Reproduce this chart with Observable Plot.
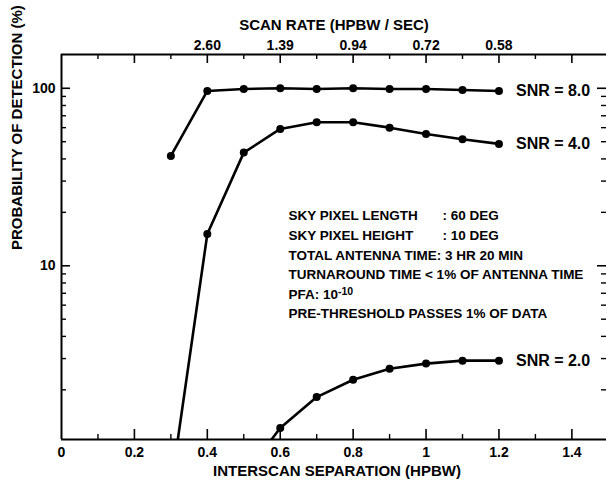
<!DOCTYPE html>
<html>
<head>
<meta charset="utf-8">
<script src="https://cdn.jsdelivr.net/npm/d3@7"></script>
<script src="https://cdn.jsdelivr.net/npm/@observablehq/plot@0.6"></script>
<style>
  html, body { margin: 0; padding: 0; background: #fff; }
</style>
</head>
<body>
<div id="chart"></div>
<script>
// Probability of detection (%) against interscan separation (HPBW), one curve per SNR
const sepSnr8 = [0.3, 0.4, 0.5, 0.6, 0.7, 0.8, 0.9, 1.0, 1.1, 1.2];
const pdSnr8  = [41.6, 96.6, 99.1, 100, 99.1, 100, 99.1, 99.1, 97.8, 96.6];

const sepSnr4 = [0.3, 0.4, 0.5, 0.6, 0.7, 0.8, 0.9, 1.0, 1.1, 1.2];
const pdSnr4  = [0.56, 15.1, 43.4, 59.0, 64.4, 64.4, 60.0, 55.3, 51.6, 48.6];

const sepSnr2 = [0.5, 0.6, 0.7, 0.8, 0.9, 1.0, 1.1, 1.2];
const pdSnr2  = [0.65, 1.22, 1.82, 2.28, 2.63, 2.81, 2.92, 2.92];

const snrNames = ["SNR = 8.0", "SNR = 4.0", "SNR = 2.0"];

// Bottom axis: interscan separation
const sepMajor = [0, 0.2, 0.4, 0.6, 0.8, 1.0, 1.2, 1.4];
const sepMinor = [0.1, 0.3, 0.5, 0.7, 0.9, 1.1, 1.3];

// Top axis: scan rate (HPBW/sec) at matching separations
const scanRateLabels = ["2.60", "1.39", "0.94", "0.72", "0.58"];
const scanRateAt     = [0.4, 0.6, 0.8, 1.0, 1.2];

// Left axis: log decades and minor ticks
const pdMajor = [10, 100];
const pdMinor = [2, 3, 4, 5, 6, 7, 8, 9, 20, 30, 40, 50, 60, 70, 80, 90];

// Run parameters listed inside the plot area
const noteKeys   = ["SKY PIXEL LENGTH", "SKY PIXEL HEIGHT"];
const noteValues = [": 60 DEG", ": 10 DEG"];
const noteLines  = [
  "TOTAL ANTENNA TIME: 3 HR 20 MIN",
  "TURNAROUND TIME < 1% OF ANTENNA TIME",
  "PFA: 10",
  "PRE-THRESHOLD PASSES 1% OF DATA"
];
const pfaExponent = "-10";

const xDomain = [0, 1.495];
const yDomain = [1.05, 155];
const frameH = 482 - 54 - 43;
const frameW = 606 - 61;

const series = [
  ...sepSnr8.map((s, i) => ({snr: snrNames[0], sep: s, pd: pdSnr8[i]})),
  ...sepSnr4.map((s, i) => ({snr: snrNames[1], sep: s, pd: pdSnr4[i]})),
  ...sepSnr2.map((s, i) => ({snr: snrNames[2], sep: s, pd: pdSnr2[i]}))
];
const lastPoints = snrNames.map(n => series.filter(d => d.snr === n).at(-1));

const font = "'Liberation Sans', Arial, 'DejaVu Sans', sans-serif";

const chart = Plot.plot({
  width: 606,
  height: 482,
  marginLeft: 61,
  marginRight: 0,
  marginTop: 54,
  marginBottom: 43,
  x: {domain: xDomain},
  y: {type: "log", domain: yDomain},
  style: {fontFamily: font, fontWeight: "bold", fontSize: "14px", color: "#000", background: "#fff"},
  marks: [
    // frame: left, top and bottom edges
    Plot.ruleX([xDomain[0]], {stroke: "#000", strokeWidth: 2}),
    Plot.ruleY([yDomain[0]], {stroke: "#000", strokeWidth: 2}),
    Plot.ruleY([yDomain[1]], {stroke: "#000", strokeWidth: 2}),

    // inward ticks, bottom
    Plot.ruleX(sepMajor.slice(1), {stroke: "#000", strokeWidth: 1.6, insetTop: frameH - 10}),
    Plot.ruleX(sepMinor, {stroke: "#000", strokeWidth: 1.4, insetTop: frameH - 5}),
    // inward ticks, top
    Plot.ruleX(sepMajor.slice(1), {stroke: "#000", strokeWidth: 1.6, insetBottom: frameH - 9}),
    Plot.ruleX(sepMinor, {stroke: "#000", strokeWidth: 1.4, insetBottom: frameH - 5}),
    // inward ticks, left
    Plot.ruleY(pdMajor, {stroke: "#000", strokeWidth: 1.6, insetRight: frameW - 9}),
    Plot.ruleY(pdMinor, {stroke: "#000", strokeWidth: 1.4, insetRight: frameW - 5}),
    // inward ticks, right
    Plot.ruleY(pdMajor, {stroke: "#000", strokeWidth: 1.6, insetLeft: frameW - 9}),
    Plot.ruleY(pdMinor, {stroke: "#000", strokeWidth: 1.4, insetLeft: frameW - 5}),

    // tick labels
    Plot.axisX({
      ticks: sepMajor, tickSize: 0, tickPadding: 8, label: null,
      tickFormat: d => (d === 0 || d === 1) ? String(d) : d.toFixed(1)
    }),
    Plot.axisX({
      anchor: "top", ticks: scanRateAt, tickSize: 0, tickPadding: 5, label: null,
      tickFormat: d => scanRateLabels[scanRateAt.indexOf(d)]
    }),
    Plot.axisY({ticks: pdMajor, tickSize: 0, tickPadding: 6, label: null, tickFormat: d => String(d)}),

    // axis titles
    Plot.text(["SCAN RATE (HPBW / SEC)"], {frameAnchor: "top", dy: -35, fontSize: 15}),
    Plot.text(["INTERSCAN SEPARATION (HPBW)"], {frameAnchor: "bottom", dy: 36, dx: 3, fontSize: 15}),
    Plot.text(["PROBABILITY OF DETECTION (%)"], {frameAnchor: "left", dx: -44, dy: 3, rotate: -90, fontSize: 15}),

    // curves
    Plot.line(series, {x: "sep", y: "pd", z: "snr", stroke: "#000", strokeWidth: 2.6, clip: true}),
    Plot.dot(series, {x: "sep", y: "pd", r: 4, fill: "#000", clip: true}),
    Plot.text(lastPoints, {x: "sep", y: "pd", text: "snr", textAnchor: "start", dx: 17, fontSize: 16}),

    // run parameters
    Plot.text([[...noteKeys, ...noteLines].join("\n")], {
      frameAnchor: "top-left", dx: 227, dy: 152, lineAnchor: "top",
      textAnchor: "start", lineHeight: 1.45, fontSize: 13.5, className: "notes"
    }),
    Plot.text([noteValues.join("\n")], {
      frameAnchor: "top-left", dx: 381, dy: 152, lineAnchor: "top",
      textAnchor: "start", lineHeight: 1.45, fontSize: 13.5
    })
  ]
});

// raise the PFA exponent as a superscript
d3.select(chart).selectAll(".notes tspan")
  .filter(function() { return this.textContent === "PFA: 10"; })
  .append("tspan")
  .attr("baseline-shift", "40%")
  .attr("font-size", "10.5px")
  .text(pfaExponent);

document.getElementById("chart").appendChild(chart);
</script>
</body>
</html>
